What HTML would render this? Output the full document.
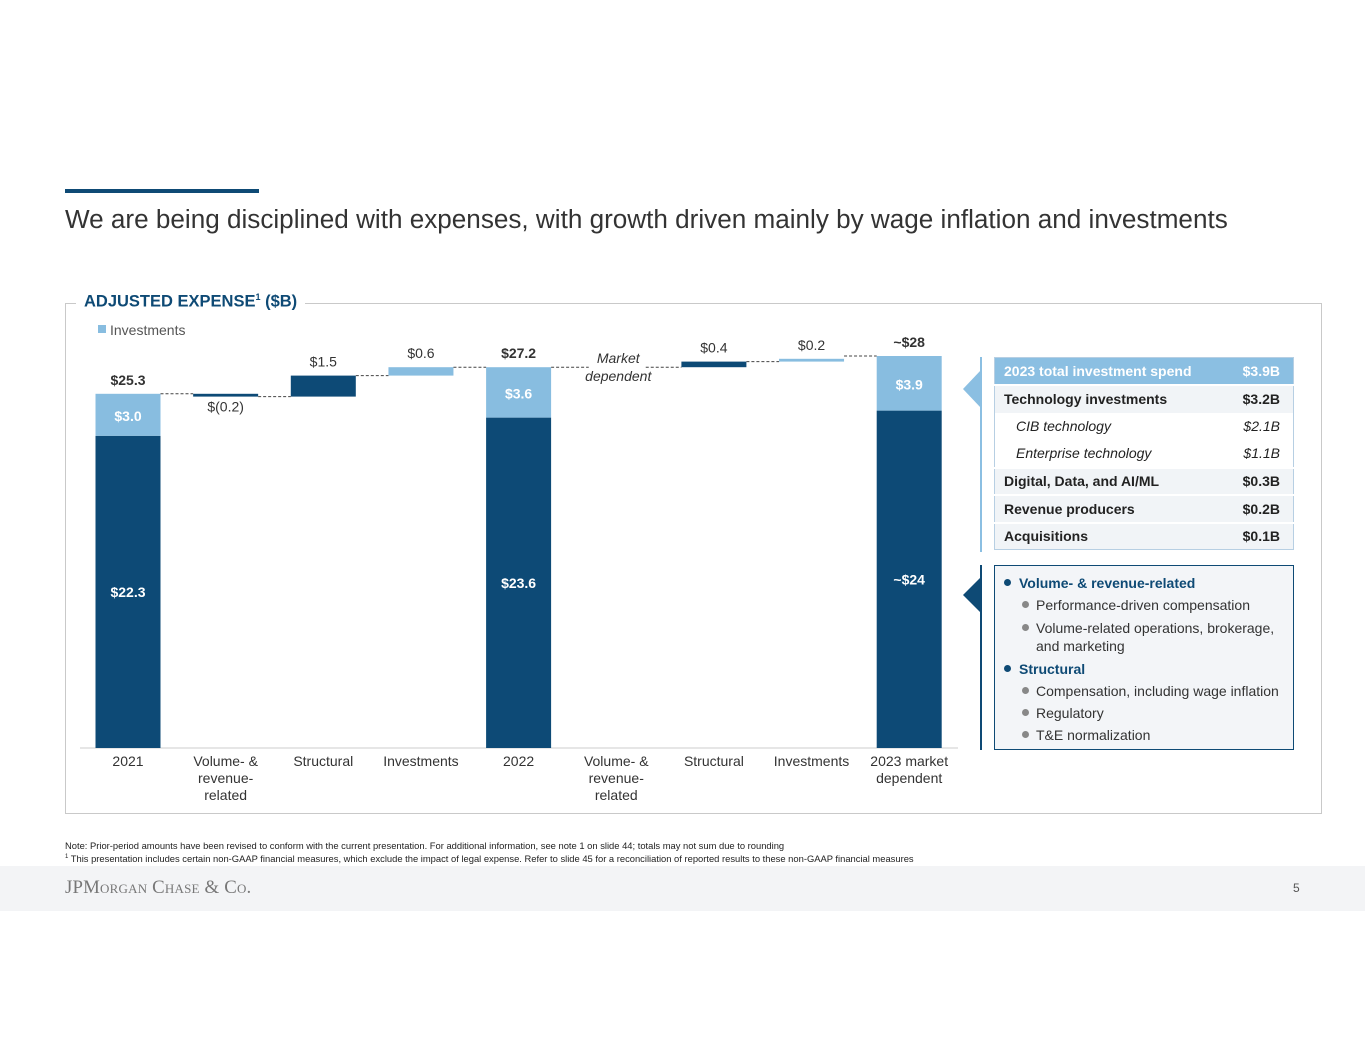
<!DOCTYPE html>
<html><head><meta charset="utf-8">
<style>
body{margin:0;width:1365px;height:1055px;background:#fff;font-family:"Liberation Sans",sans-serif;position:relative;overflow:hidden}
.abs{position:absolute}
table{border-collapse:collapse}
</style></head><body>
<div class="abs" style="left:65px;top:189px;width:194px;height:4px;background:#0e4a75"></div>
<div class="abs" style="left:65px;top:204px;font-size:26.1px;color:#333;white-space:nowrap">We are being disciplined with expenses, with growth driven mainly by wage inflation and investments</div>

<div class="abs" style="left:65px;top:303px;width:1255px;height:509px;border:1px solid #c9c9c9"></div>
<div class="abs" style="left:76px;top:292px;padding:0 8px;background:#fff;font-size:16.5px;font-weight:bold;color:#0e4a75">ADJUSTED EXPENSE<sup style="font-size:9px">1</sup> ($B)</div>

<svg class="abs" id="chart" style="left:0;top:0" width="1365" height="1055"></svg>

<div class="abs" style="left:980px;top:357px;width:2px;height:195px;background:#8bbfe2"></div>
<div class="abs" style="left:963px;top:370px;width:0;height:0;border-top:19px solid transparent;border-bottom:19px solid transparent;border-right:18px solid #8bbfe2"></div>
<div class="abs" style="left:980px;top:565px;width:2px;height:185px;background:#0e4a75"></div>
<div class="abs" style="left:963px;top:577px;width:0;height:0;border-top:18px solid transparent;border-bottom:18px solid transparent;border-right:18px solid #0e4a75"></div>

<table class="abs" style="left:994px;top:357px;width:300px;font-size:14px;color:#222;border:1px solid #b7cfe3">
<tr style="background:#8bbfe2;color:#fff;font-weight:bold;height:27px"><td style="padding-left:9px">2023 total investment spend</td><td style="text-align:right;padding-right:13px">$3.9B</td></tr>
<tr style="background:#f1f4f7;font-weight:bold;height:28px;border-top:2px solid #fff"><td style="padding-left:9px">Technology investments</td><td style="text-align:right;padding-right:13px">$3.2B</td></tr>
<tr style="font-style:italic;height:27px"><td style="padding-left:21px">CIB technology</td><td style="text-align:right;padding-right:13px">$2.1B</td></tr>
<tr style="font-style:italic;height:28px"><td style="padding-left:21px">Enterprise technology</td><td style="text-align:right;padding-right:13px">$1.1B</td></tr>
<tr style="background:#f1f4f7;font-weight:bold;height:27px;border-top:2px solid #fff"><td style="padding-left:9px">Digital, Data, and AI/ML</td><td style="text-align:right;padding-right:13px">$0.3B</td></tr>
<tr style="background:#f1f4f7;font-weight:bold;height:28px;border-top:2px solid #fff"><td style="padding-left:9px">Revenue producers</td><td style="text-align:right;padding-right:13px">$0.2B</td></tr>
<tr style="background:#f1f4f7;font-weight:bold;height:27px;border-top:2px solid #fff"><td style="padding-left:9px">Acquisitions</td><td style="text-align:right;padding-right:13px">$0.1B</td></tr>
</table>

<div class="abs" style="left:994px;top:565px;width:298px;height:183px;border:1px solid #0e4a75;background:#f3f5f8;font-size:14px;color:#333">
<div style="position:absolute;left:9px;top:9px;color:#0e4a75;font-weight:bold"><span style="display:inline-block;width:7px;height:7px;border-radius:50%;background:#0e4a75;margin-right:8px;vertical-align:2px"></span>Volume- &amp; revenue-related</div>
<div style="position:absolute;left:27px;top:31px"><span style="display:inline-block;width:7px;height:7px;border-radius:50%;background:#888;margin-right:7px;vertical-align:2px"></span>Performance-driven compensation</div>
<div style="position:absolute;left:27px;top:53px;line-height:18px;width:270px"><span style="display:inline-block;width:7px;height:7px;border-radius:50%;background:#888;margin-right:7px;vertical-align:2px"></span>Volume-related operations, brokerage,<br><span style="padding-left:14px">and marketing</span></div>
<div style="position:absolute;left:9px;top:95px;color:#0e4a75;font-weight:bold"><span style="display:inline-block;width:7px;height:7px;border-radius:50%;background:#0e4a75;margin-right:8px;vertical-align:2px"></span>Structural</div>
<div style="position:absolute;left:27px;top:117px"><span style="display:inline-block;width:7px;height:7px;border-radius:50%;background:#888;margin-right:7px;vertical-align:2px"></span>Compensation, including wage inflation</div>
<div style="position:absolute;left:27px;top:139px"><span style="display:inline-block;width:7px;height:7px;border-radius:50%;background:#888;margin-right:7px;vertical-align:2px"></span>Regulatory</div>
<div style="position:absolute;left:27px;top:161px"><span style="display:inline-block;width:7px;height:7px;border-radius:50%;background:#888;margin-right:7px;vertical-align:2px"></span>T&amp;E normalization</div>
</div>

<div class="abs" style="left:65px;top:840px;font-size:9.4px;color:#222;line-height:11.5px;white-space:nowrap">Note: Prior-period amounts have been revised to conform with the current presentation. For additional information, see note 1 on slide 44; totals may not sum due to rounding<br><sup style="font-size:6px">1</sup> This presentation includes certain non-GAAP financial measures, which exclude the impact of legal expense. Refer to slide 45 for a reconciliation of reported results to these non-GAAP financial measures</div>
<div class="abs" style="left:0;top:866px;width:1365px;height:45px;background:#f3f4f6"></div>
<div class="abs" style="left:65px;top:877px;font-family:'Liberation Serif',serif;font-size:18.8px;color:#777;font-variant:small-caps;letter-spacing:0.2px">JPMorgan Chase &amp; Co.</div>
<div class="abs" style="left:1293px;top:881px;font-size:12px;color:#555">5</div>

<script>
const categories=["2021","Volume- &|revenue-|related","Structural","Investments","2022","Volume- &|revenue-|related","Structural","Investments","2023 market|dependent"];
const kinds=["total","step","step","stepInv","total","market","step","stepInv","total"];
const totalValues=[25.3,null,null,null,27.2,null,null,null,28];
const investValues=[3.0,null,null,null,3.6,null,null,null,3.9];
const stepValues=[null,-0.2,1.5,0.6,null,null,0.4,0.2,null];
const totalLabels=["$25.3","","","","$27.2","","","","~$28"];
const investLabels=["$3.0","","","","$3.6","","","","$3.9"];
const baseLabels=["$22.3","","","","$23.6","","","","~$24"];
const stepLabels=["","$(0.2)","$1.5","$0.6","","","$0.4","$0.2",""];

const DARK="#0d4a76",LIGHT="#88bde0";
const NS="http://www.w3.org/2000/svg";
const svg=document.getElementById('chart');
const y0=748,pxPer=14,x0=128,step=97.65,bw=65;
function yS(v){return y0-v*pxPer;}
function xC(i){return x0+i*step;}
function el(t,a,name){const e=document.createElementNS(NS,t);for(const k in a)e.setAttribute(k,a[k]);


svg.appendChild(e);return e;}
function txt(x,y,s,name,o){const t=el('text',Object.assign({x:x,y:y,'text-anchor':'middle','font-size':14,fill:'#333','font-family':'Liberation Sans, sans-serif'},o||{}),name);t.textContent=s;return t;}

el('rect',{x:98,y:325,width:8,height:8,fill:LIGHT},'legend-swatch');
txt(110,335,"Investments",'legend-label',{'text-anchor':'start',fill:'#555'});

el('line',{x1:80,x2:958,y1:y0,y2:y0,stroke:'#ccc','stroke-width':1},'x-axis');

let level=0,prevRight=null;
for(let i=0;i<categories.length;i++){
  const cx=xC(i),xl=cx-bw/2;
  categories[i].split('|').forEach((ln,j)=>txt(cx,766+j*17,ln,'x-tick-label'));
  if(kinds[i]==='total'){
    const tot=totalValues[i],inv=investValues[i];
    el('rect',{x:xl,y:yS(tot-inv),width:bw,height:(tot-inv)*pxPer,fill:DARK},'bar-base-'+i);
    el('rect',{x:xl,y:yS(tot),width:bw,height:inv*pxPer,fill:LIGHT},'bar-investments-'+i);
    txt(cx,(yS(tot-inv)+y0)/2+5,baseLabels[i],'bar-base-label',{fill:'#fff','font-weight':'bold'});
    txt(cx,(yS(tot)+yS(tot-inv))/2+6,investLabels[i],'bar-investments-label',{fill:'#fff','font-weight':'bold'});
    txt(cx,yS(tot)-9,totalLabels[i],'bar-total-label',{'font-weight':'bold'});
    level=tot;
  } else if(kinds[i]==='market'){
    txt(cx+2,363,"Market",'market-dependent-label',{'font-style':'italic'});
    txt(cx+2,381,"dependent",'market-dependent-label',{'font-style':'italic'});
  } else {
    const v=stepValues[i],a=level,b=level+v;
    const yt=yS(Math.max(a,b)),h=Math.max(Math.abs(v)*pxPer,2.5);
    el('rect',{x:xl,y:yt,width:bw,height:h,fill:kinds[i]==='stepInv'?LIGHT:DARK},'bar-step-'+i);
    if(v<0) txt(cx,yt+h+15,stepLabels[i],'bar-step-label');
    else txt(cx,yt-9,stepLabels[i],'bar-step-label');
    level=b;
  }
  if(prevRight!==null){
    const yc=kinds[i]==='total'?yS(totalValues[i]):yS(level-(stepValues[i]||0));
    let x2=xl;
    if(kinds[i]==='market'){x2=xl+5;}
    el('line',{x1:prevRight,x2:x2,y1:yc,y2:yc,stroke:'#444','stroke-width':1,'stroke-dasharray':'3,2'},'connector-'+i);
  }
  prevRight=kinds[i]==='market'?xl+bw-3:xl+bw;
}
</script>
</body></html>
